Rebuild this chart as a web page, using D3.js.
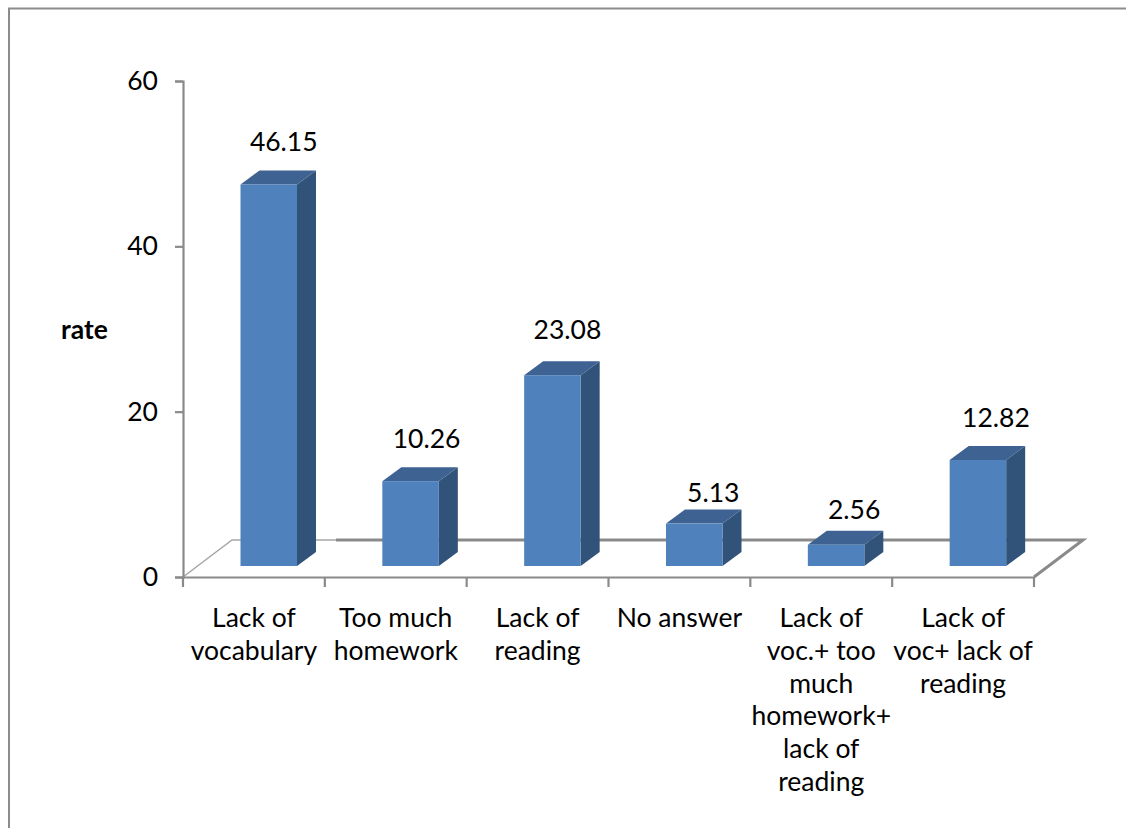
<!DOCTYPE html>
<html>
<head>
<meta charset="utf-8">
<script src="https://cdn.jsdelivr.net/npm/d3@7"></script>
<style>
  html, body { margin: 0; padding: 0; background: #fff; }
  svg { display: block; }
  text { font-family: Lato, "Open Sans", sans-serif; fill: #000; }
</style>
</head>
<body>
<div id="chart"></div>
<script>
// Data
const categories = [
  ["Lack of", "vocabulary"],
  ["Too much", "homework"],
  ["Lack of", "reading"],
  ["No answer"],
  ["Lack of", "voc.+ too", "much", "homework+", "lack of", "reading"],
  ["Lack of", "voc+ lack of", "reading"]
];
const rates = [46.15, 10.26, 23.08, 5.13, 2.56, 12.82];
const rateTicks = [0, 20, 40, 60];
const yLabel = "rate";

// Set dimensions
const width = 1126;
const height = 828;
const plot = {left: 183, right: 1034, top: 81, bottom: 577};
const floor = {dx: 49, dy: -37, lift: 11};   // 3d floor and where bars stand on it
const bar = {inset: 57.5, width: 56.5, dx: 19, dy: -14};
const fontSize = 26.5;
const axisColor = "#8a8a8a";

const svg = d3.select("#chart").append("svg")
  .attr("width", width)
  .attr("height", height);

// Page frame
svg.append("path")
  .attr("d", `M9,${height} V8.5 H${width}`)
  .attr("fill", "none")
  .attr("stroke", "#8c8c8c")
  .attr("stroke-width", 2);

// Scales
const xScale = d3.scaleBand()
  .domain(d3.range(categories.length))
  .range([plot.left, plot.right]);

const yScale = d3.scaleLinear()
  .domain([0, 60])
  .range([plot.bottom, plot.top]);

// Floor of the 3d chart, the back edge is heavier past the first bar
const backY = plot.bottom + floor.dy;
svg.append("path")
  .attr("d", `M${plot.left},${plot.bottom} L${plot.left + floor.dx},${backY} H336`)
  .attr("fill", "none")
  .attr("stroke", "#a6a6a6")
  .attr("stroke-width", 1.5);
svg.append("path")
  .attr("d", `M336,${backY} H${plot.right + floor.dx} L${plot.right},${plot.bottom}`)
  .attr("fill", "none")
  .attr("stroke", axisColor)
  .attr("stroke-width", 3);

// Y axis
const yAxis = svg.append("g")
  .attr("transform", `translate(${plot.left},0)`)
  .call(d3.axisLeft(yScale).tickValues(rateTicks).tickSize(8).tickPadding(17));

// X axis
const xAxis = svg.append("g")
  .attr("transform", `translate(0,${plot.bottom})`)
  .call(d3.axisBottom(xScale).tickSize(0).tickFormat(""));

xAxis.selectAll(".tick").remove();
xAxis.selectAll(".edge")
  .data(d3.range(categories.length + 1))
  .enter()
  .append("line")
    .attr("class", "edge")
    .attr("x1", i => plot.left + i * xScale.bandwidth())
    .attr("x2", i => plot.left + i * xScale.bandwidth())
    .attr("y1", 0)
    .attr("y2", 10);

[yAxis, xAxis].forEach(g => {
  g.selectAll("path, line")
    .attr("stroke", axisColor)
    .attr("stroke-width", 2.2);
  g.selectAll("text")
    .attr("font-size", fontSize);
});

// Category labels, wrapped the way the original breaks them
const labels = svg.append("g")
  .selectAll("text")
  .data(categories)
  .enter()
  .append("text")
    .attr("text-anchor", "middle")
    .attr("font-size", fontSize)
    .attr("y", 627);

labels.selectAll("tspan")
  .data((d, i) => d.map(line => ({line: line, i: i})))
  .enter()
  .append("tspan")
    .attr("x", d => xScale(d.i) + xScale.bandwidth() / 2)
    .attr("dy", (d, j) => j === 0 ? 0 : 32.8)
    .text(d => d.line);

// Bars: front, side, top
const frontX = i => xScale(i) + bar.inset;
const baseY = plot.bottom - floor.lift;
const topY = d => baseY - (plot.bottom - yScale(d));

const bars = svg.append("g")
  .selectAll("g")
  .data(rates)
  .enter()
  .append("g");

bars.append("path")
  .attr("fill", "#325379")
  .attr("d", (d, i) => {
    const r = frontX(i) + bar.width;
    return `M${r},${baseY} V${topY(d)} l${bar.dx},${bar.dy} V${baseY + bar.dy} Z`;
  });

bars.append("path")
  .attr("fill", "#3e6291")
  .attr("d", (d, i) => {
    const l = frontX(i);
    return `M${l},${topY(d)} l${bar.dx},${bar.dy} h${bar.width} l${-bar.dx},${-bar.dy} Z`;
  });

bars.append("rect")
  .attr("fill", "#4f81bd")
  .attr("x", (d, i) => frontX(i))
  .attr("y", d => topY(d))
  .attr("width", bar.width)
  .attr("height", d => baseY - topY(d));

// Value labels, hand placed in the original so each has its own nudge
const labelNudge = [[15, -33], [16, -33], [15, -36], [19, -22], [18, -26], [18, -33]];

svg.append("g")
  .selectAll("text")
  .data(rates)
  .enter()
  .append("text")
    .attr("text-anchor", "middle")
    .attr("font-size", fontSize)
    .attr("x", (d, i) => frontX(i) + bar.width / 2 + labelNudge[i][0])
    .attr("y", (d, i) => topY(d) + labelNudge[i][1])
    .text(d => d);

// Axis title
svg.append("text")
  .attr("x", 61)
  .attr("y", 339)
  .attr("font-size", fontSize)
  .attr("font-weight", "bold")
  .text(yLabel);
</script>
</body>
</html>
